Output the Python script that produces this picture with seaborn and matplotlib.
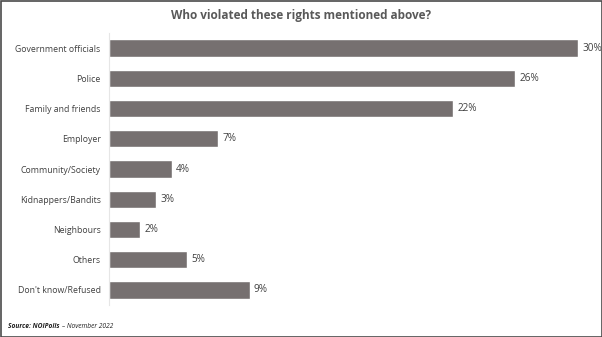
import matplotlib
matplotlib.use("Agg")
import matplotlib.pyplot as plt
import seaborn as sns
import pandas as pd

categories = ["Government officials", "Police", "Family and friends", "Employer",
              "Community/Society", "Kidnappers/Bandits", "Neighbours", "Others",
              "Don't know/Refused"]
values = [30, 26, 22, 7, 4, 3, 2, 5, 9]
value_labels = ["30%", "26%", "22%", "7%", "4%", "3%", "2%", "5%", "9%"]
title = "Who violated these rights mentioned above?"

sns.set_theme(style="white")
plt.rcParams['font.family'] = ['Open Sans', 'DejaVu Sans']

df = pd.DataFrame({"cat": categories, "val": values})

fig = plt.figure(figsize=(6.02, 3.37), dpi=100)
ax = fig.add_axes([109/602, 1-305/337, (578-109)/602, (305-33)/337])
sns.barplot(data=df, x="val", y="cat", color="#767070", saturation=1,
            width=0.57, ax=ax, orient="h")
ax.set_xlim(0, 30)
ax.set_ylim(len(categories)-0.5, -0.5)
ax.set_xlabel("")
ax.set_ylabel("")
ax.set_xticks([])
for s in ["top", "right", "bottom"]:
    ax.spines[s].set_visible(False)
ax.spines["left"].set_color("#e6e6e6")
ax.spines["left"].set_linewidth(0.8)
ax.tick_params(axis="y", length=0, pad=6, labelsize=6.3, labelcolor="#404040")
for p, lab in zip(ax.patches, value_labels):
    ax.annotate(lab, (p.get_width(), p.get_y() + p.get_height()/2),
                xytext=(3, 0), textcoords="offset points", va="center", ha="left",
                fontsize=7.2, color="#404040")

fig.text(0.5, 1-15/337, title, ha="center", va="center", fontsize=8.5,
         fontweight="bold", color="#595959")
fig.text(8/602, 1-326/337, "Source: NOIPolls", fontsize=4.8, fontweight="bold",
         style="italic", color="#202020", va="center")
fig.text(62/602, 1-326/337, "\u2013 November 2022", fontsize=4.8, style="italic",
         color="#202020", va="center")

border = plt.Rectangle((0.5/602, 0.5/337), 1-1/602, 1-1/337, transform=fig.transFigure,
                       fill=False, edgecolor="#4a4a4a", linewidth=1.2)
fig.patches.append(border)

fig.savefig("out.png", dpi=100)
